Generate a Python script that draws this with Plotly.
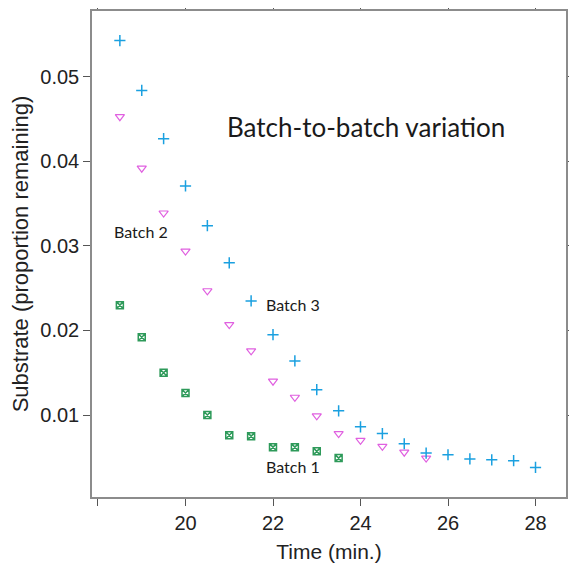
import plotly.graph_objects as go

# ── data ──────────────────────────────────────────────────────────────────────
time_b1 = [18.5, 19, 19.5, 20, 20.5, 21, 21.5, 22, 22.5, 23, 23.5]
batch1 = [0.0230, 0.0192, 0.0150, 0.0126, 0.0100, 0.0076, 0.0075,
          0.0062, 0.0062, 0.0057, 0.0049]

time_b2 = [18.5, 19, 19.5, 20, 20.5, 21, 21.5, 22, 22.5, 23, 23.5,
           24, 24.5, 25, 25.5]
batch2 = [0.0453, 0.0392, 0.0339, 0.0294, 0.0247, 0.0207, 0.0176, 0.0140,
          0.0121, 0.0099, 0.0078, 0.0070, 0.0063, 0.0056, 0.0049]

time_b3 = [18.5, 19, 19.5, 20, 20.5, 21, 21.5, 22, 22.5, 23, 23.5, 24,
           24.5, 25, 25.5, 26, 26.5, 27, 27.5, 28]
batch3 = [0.0543, 0.0484, 0.0427, 0.0371, 0.0324, 0.0280, 0.0235, 0.0195,
          0.0164, 0.0130, 0.0105, 0.0086, 0.0078, 0.0066, 0.0055, 0.0053,
          0.0048, 0.0047, 0.0046, 0.0038]

x_ticks = [18, 20, 22, 24, 26, 28]
x_tick_text = ["", "20", "22", "24", "26", "28"]
y_ticks = [0.01, 0.02, 0.03, 0.04, 0.05]
y_tick_text = ["0.01", "0.02", "0.03", "0.04", "0.05"]

fig = go.Figure()
fig.add_trace(go.Scatter(
    x=time_b1, y=batch1, mode="markers", name="Batch 1",
    marker=dict(symbol="square-x-open", size=7, color="#2e9a5a", line=dict(width=1.5)),
))
fig.add_trace(go.Scatter(
    x=time_b2, y=batch2, mode="markers", name="Batch 2",
    marker=dict(symbol="triangle-down-open", size=8, color="#e060e0", line=dict(width=1.2)),
))
fig.add_trace(go.Scatter(
    x=time_b3, y=batch3, mode="markers", name="Batch 3",
    marker=dict(symbol="cross-thin-open", size=8, color="#1aa0e0", line=dict(width=1.5)),
))

label_font = dict(family="Lato, Noto Sans, sans-serif", size=16, color="#1a1a1a")
fig.add_annotation(x=18.98, y=0.0317, text="Batch 2", showarrow=False, font=label_font)
fig.add_annotation(x=22.46, y=0.0231, text="Batch 3", showarrow=False, font=label_font)
fig.add_annotation(x=22.46, y=0.00385, text="Batch 1", showarrow=False, font=label_font)
fig.add_annotation(x=24.13, y=0.0441, text="Batch-to-batch variation", showarrow=False,
                   font=dict(family="Lato, Noto Sans, sans-serif", size=26, color="#1a1a1a"))

arial = "Liberation Sans, Arial, sans-serif"
axis_style = dict(
    showline=True, linecolor="#8c8c8c", linewidth=1.5, mirror="ticks",
    ticks="outside", ticklen=7, tickcolor="#555555", tickwidth=1,
    showgrid=False, zeroline=False, automargin=False,
    tickfont=dict(family=arial, size=20, color="#222222"),
)
fig.update_xaxes(
    range=[17.863, 28.697], tickvals=x_ticks, ticktext=x_tick_text,
    title=dict(text="Time (min.)", standoff=12,
               font=dict(family=arial, size=21, color="#222222")),
    **axis_style,
)
fig.update_yaxes(
    range=[0.0003, 0.0578], tickvals=y_ticks, ticktext=y_tick_text,
    title=dict(text="Substrate (proportion remaining)", standoff=6,
               font=dict(family=arial, size=22, color="#222222")),
    **axis_style,
)
# the page body adds an 8px offset, so the margins are shifted to compensate
fig.update_layout(
    width=577, height=566,
    margin=dict(l=84, r=19, t=3, b=77),
    plot_bgcolor="white", paper_bgcolor="white",
    showlegend=False,
)

fig.write_html("out.html")
